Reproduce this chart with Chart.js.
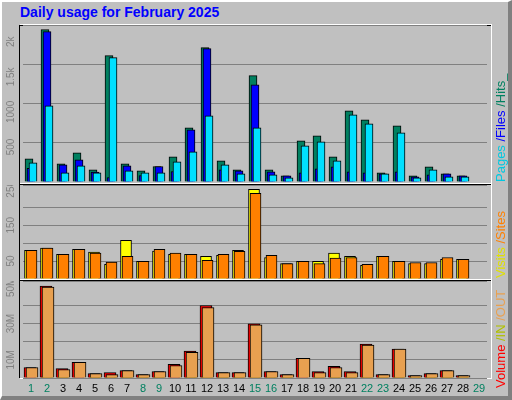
<!DOCTYPE html>
<html>
<head>
<meta charset="utf-8">
<script src="https://cdn.jsdelivr.net/npm/chart.js@4"></script>
<style>
body{margin:0;background:#fff;}
#frame{position:absolute;left:0;top:0;box-sizing:content-box;width:506px;height:394px;background:#C0C0C0;border-top:2px solid #fff;border-left:2px solid #fff;border-right:4px solid #808080;border-bottom:4px solid #808080;}
.title{position:absolute;left:20px;top:4px;font:bold 14px "Liberation Sans",Arial,sans-serif;color:#0000FF;}
canvas{position:absolute;left:0;}
.line{position:absolute;left:20px;width:471px;height:1px;}
.side{position:absolute;font:13px "Liberation Sans",Arial,sans-serif;transform:rotate(-90deg);transform-origin:left top;white-space:nowrap;}
</style>
</head>
<body>
<div id="frame"></div>
<div class="title">Daily usage for February 2025</div>

<div class="line" style="top:24px;background:#fff"></div>
<div class="line" style="top:25px;background:#000"></div>
<div class="line" style="top:183px;background:#fff"></div>
<div class="line" style="top:184px;background:#000"></div>
<div class="line" style="top:279px;background:#fff"></div>
<div class="line" style="top:280px;background:#000"></div>
<div class="line" style="top:378px;background:#fff"></div>
<div style="position:absolute;left:19px;top:25px;width:1px;height:353px;background:#000"></div>
<div style="position:absolute;left:491px;top:24px;width:1px;height:355px;background:#fff"></div>

<canvas id="hitsChart" width="512" height="157" style="top:25px"></canvas>
<canvas id="visitsChart" width="512" height="94" style="top:185px"></canvas>
<canvas id="volChart" width="512" height="118" style="top:281px"></canvas>

<div class="side" style="left:493px;top:182px"><span style="color:#00C8E0">Pages</span><span style="color:#0000FF"> /Files</span><span style="color:#008060"> /Hits_</span></div>
<div class="side" style="left:493px;top:278px"><span style="color:#E0E000">Visits</span><span style="color:#FF8000"> /Sites</span></div>
<div class="side" style="left:493px;top:388px"><span style="color:#FF0000">Volume</span><span style="color:#B0C000"> /IN</span><span style="color:#E8A050"> /OUT</span></div>

<script>
let days=["1","2","3","4","5","6","7","8","9","10","11","12","13","14","15","16","17","18","19","20","21","22","23","24","25","26","27","28","29"];
let weekend=[1,2,8,9,15,16,22,23,29];

let hits=[330,2174,260,417,174,1803,260,160,221,360,774,1917,302,174,1517,174,88,588,660,360,1017,888,131,802,88,217,117,88,0];
let files=[195,2145,245,317,140,64,231,93,221,150,745,1903,174,160,1388,145,88,131,188,217,145,131,117,145,74,102,117,88,0];
let pages=[275,1088,131,231,130,1774,160,131,131,288,431,945,245,117,774,102,60,517,574,302,960,831,117,702,60,174,74,74,0];

let visits=[80,86,69,83,75,41,108,49,78,69,69,63,66,80,250,60,43,49,49,72,63,38,63,49,43,43,55,55,0];
let sites=[80,86,69,83,72,47,63,49,83,72,69,52,69,77,239,66,43,49,43,58,60,41,63,49,46,46,60,55,0];

let volume=[5.8,50.7,5.2,8.6,2.4,3.0,4.1,1.9,3.6,7.5,14.8,40.0,3.0,3.0,29.9,3.6,1.9,10.8,3.6,6.4,3.6,18.7,1.9,15.9,1.3,2.4,4.1,1.3,0];
let volIn=[0.3,0.6,0.2,0.3,0.1,0.1,0.2,0.1,0.1,0.3,0.4,0.7,0.1,0.1,0.6,0.1,0.1,0.3,0.1,0.2,0.1,0.4,0.1,0.4,0.1,0.1,0.1,0.1,0];
let volOut=[5.8,50.1,4.7,8.6,2.4,1.9,4.1,1.9,3.6,6.9,14.2,38.9,3.0,3.0,29.3,3.6,1.9,10.8,3.0,5.8,3.0,18.1,1.9,15.9,1.3,2.4,4.1,1.3,0];

function yLabels(list){
return {
id:"yLabels",
afterDraw(chart){
let ctx=chart.ctx;
let y=chart.scales.y;
ctx.save();
ctx.fillStyle="#808080";
ctx.font="10px 'Liberation Sans', Arial, sans-serif";
ctx.textAlign="center";
ctx.textBaseline="middle";
list.forEach(l=>{
ctx.save();
ctx.translate(11,y.getPixelForValue(l.v));
ctx.rotate(-Math.PI/2);
ctx.fillText(l.t,0,0);
ctx.restore();
});
ctx.restore();
}
};
}

// webalizer style: bars overlap, each shifted a little to the right
let shiftBars={
id:"shiftBars",
afterDatasetsUpdate(chart){
chart.data.datasets.forEach((d,i)=>{
chart.getDatasetMeta(i).data.forEach(el=>{el.x+=d.shift;});
});
}
};

let xLabels={
id:"xLabels",
afterDraw(chart){
let ctx=chart.ctx;
let x=chart.scales.x;
ctx.save();
ctx.font="11px 'Liberation Sans', Arial, sans-serif";
ctx.textAlign="center";
ctx.textBaseline="middle";
days.forEach((d,i)=>{
ctx.fillStyle=weekend.includes(i+1)?"#008060":"#000";
ctx.fillText(d,x.getPixelForValue(i),chart.chartArea.bottom+11);
});
ctx.restore();
}
};

function ds(data,color,width,shift,order){
return {data,backgroundColor:color,borderColor:"#000",borderWidth:1,barThickness:width,grouped:false,shift,order};
}

function opts(max,step,bottom){
return {
responsive:false,
animation:false,
layout:{padding:{left:23,right:25,top:0,bottom:bottom}},
plugins:{legend:{display:false},tooltip:{enabled:false}},
scales:{
x:{display:false},
y:{min:0,max:max,ticks:{display:false,stepSize:step},grid:{color:"#808080",drawTicks:false},border:{display:false}}
}
};
}

new Chart(document.getElementById("hitsChart"),{
type:"bar",
data:{labels:days,datasets:[ds(hits,"#008060",8,-2,3),ds(files,"#0000FF",8,0,2),ds(pages,"#00E0FF",8,2,1)]},
options:opts(2240,500,0),
plugins:[shiftBars,yLabels([{v:500,t:"500"},{v:1000,t:"1000"},{v:1500,t:"1.5k"},{v:2000,t:"2k"}])]
});

new Chart(document.getElementById("visitsChart"),{
type:"bar",
data:{labels:days,datasets:[ds(visits,"#FFFF00",11,-1,2),ds(sites,"#FF8000",11,0.5,1)]},
options:opts(262,50,0),
plugins:[shiftBars,yLabels([{v:50,t:"50"},{v:150,t:"150"},{v:250,t:"250"}])]
});

new Chart(document.getElementById("volChart"),{
type:"bar",
data:{labels:days,datasets:[ds(volume,"#FF0000",12,-1,3),ds(volIn,"#E0E000",12,0,2),ds(volOut,"#E8A050",12,1,1)]},
options:opts(53.5,10,21),
plugins:[shiftBars,yLabels([{v:10,t:"10M"},{v:30,t:"30M"},{v:50,t:"50M"}]),xLabels]
});
</script>
</body>
</html>
